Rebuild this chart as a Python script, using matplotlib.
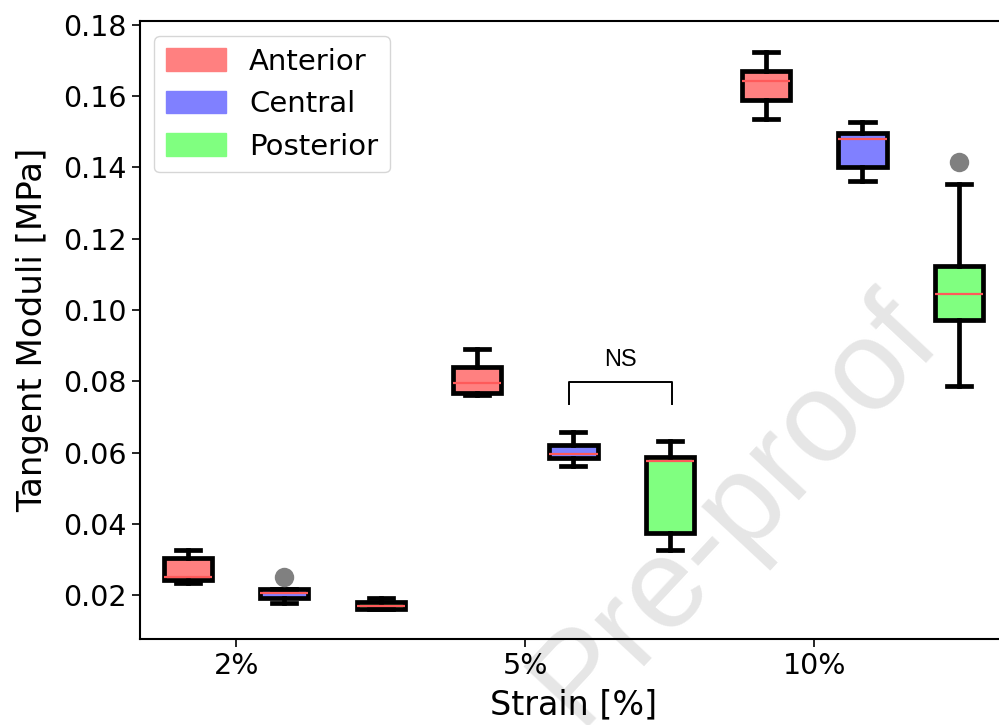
import matplotlib.pyplot as plt
from matplotlib.patches import Patch

# data (MPa)
regions = ['Anterior', 'Central', 'Posterior']
strains = ['2%', '5%', '10%']
region_colors = ['#ff8080', '#8080ff', '#80ff80']

whislo = [0.0234, 0.0178, 0.0160, 0.0762, 0.0562, 0.0328, 0.1537, 0.1361, 0.0788]
q1     = [0.0243, 0.0192, 0.0162, 0.0768, 0.0585, 0.0375, 0.1588, 0.1400, 0.0972]
med    = [0.0250, 0.0206, 0.0171, 0.0794, 0.0597, 0.0576, 0.1643, 0.1481, 0.1044]
q3     = [0.0305, 0.0217, 0.0182, 0.0840, 0.0620, 0.0588, 0.1670, 0.1498, 0.1124]
whishi = [0.0326, 0.0217, 0.0192, 0.0891, 0.0657, 0.0632, 0.1725, 0.1528, 0.1353]
fliers = [[], [0.0251], [], [], [], [], [], [], [0.1414]]

ns_pair = (4.95, 6.02)   # positions joined by the NS bracket
ns_low, ns_high = 0.0735, 0.0799

fig = plt.figure(figsize=(9.99, 7.25), dpi=100)
ax = fig.add_axes([0.140, 0.1186, 0.868, 0.852])

stats = []
positions = []
colors = []
for g in range(len(strains)):
    for r in range(len(regions)):
        i = g * 3 + r
        stats.append(dict(med=med[i], q1=q1[i], q3=q3[i],
                          whislo=whislo[i], whishi=whishi[i], fliers=fliers[i]))
        positions.append(i + 1)
        colors.append(region_colors[r])

bp = ax.bxp(stats, positions=positions, widths=0.5, patch_artist=True,
            boxprops=dict(edgecolor='black', linewidth=3.4),
            whiskerprops=dict(color='black', linewidth=3.4),
            capprops=dict(color='black', linewidth=3.4),
            medianprops=dict(color='#ff5a5a', linewidth=1.6),
            flierprops=dict(marker='o', markerfacecolor='#808080',
                            markeredgecolor='none', markersize=14))
for box, c in zip(bp['boxes'], colors):
    box.set_facecolor(c)

# NS bracket
ax.plot([ns_pair[0], ns_pair[0], ns_pair[1], ns_pair[1]],
        [ns_low, ns_high, ns_high, ns_low], color='black', lw=1.4)
ax.text(sum(ns_pair) / 2, ns_high + 0.0030, 'NS', ha='center', va='bottom',
        fontsize=17, family='Liberation Sans')

ax.set_xlim(0.5, 9.5)
ax.set_ylim(0.0077, 0.181)
ax.set_xticks([1.5, 4.5, 7.5])
ax.set_xticklabels(strains)
ax.set_yticks([0.02, 0.04, 0.06, 0.08, 0.10, 0.12, 0.14, 0.16, 0.18])
ax.set_yticklabels([f'{v:.2f}' for v in ax.get_yticks()])
ax.tick_params(labelsize=20.5, length=6, width=1.2)
for s in ax.spines.values():
    s.set_linewidth(1.5)
ax.set_xlabel('Strain [%]', fontsize=24, labelpad=6)
ax.set_ylabel('Tangent Moduli [MPa]', fontsize=24.5, labelpad=10)

handles = [Patch(facecolor=c, edgecolor=c, label=l) for c, l in zip(region_colors, regions)]
ax.legend(handles=handles, loc='upper left', fontsize=21, handlelength=2.05,
          handleheight=0.8, borderaxespad=0.5)

# watermark
ax.text(0.736, 0.297, 'Pre-proof', transform=fig.transFigure, rotation=47,
        ha='center', va='center', fontsize=92, color='#e6e6e6',
        family='Liberation Sans', zorder=0.5, clip_on=False)

fig.savefig('out.png', dpi=100)
